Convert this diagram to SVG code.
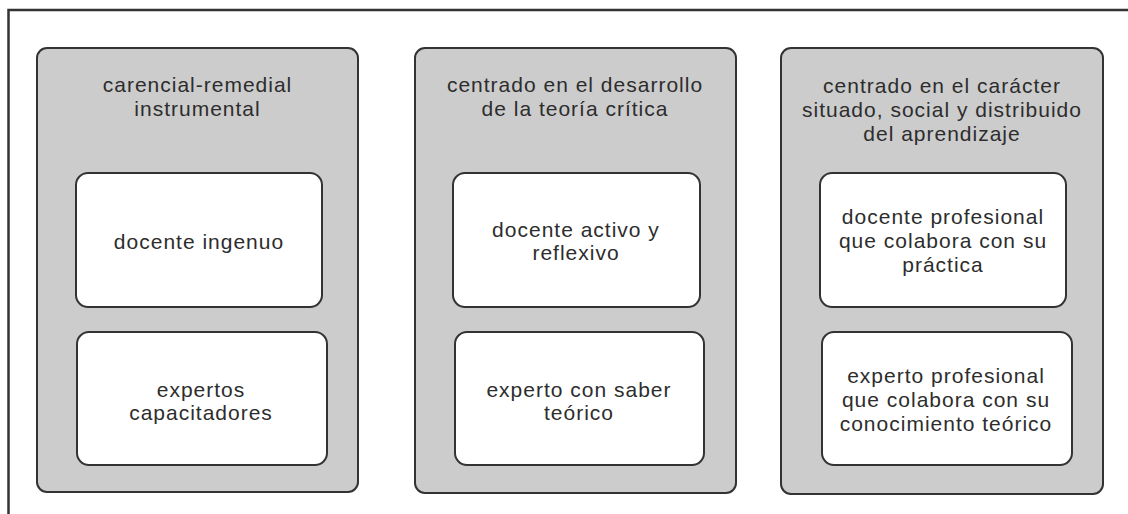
<svg xmlns="http://www.w3.org/2000/svg" width="1128" height="514" viewBox="0 0 1128 514">
<style>
.frame{fill:none;stroke:#333;stroke-width:2.5}
.panel{fill:#cccccc;stroke:#333;stroke-width:2}
.box{fill:#ffffff;stroke:#333;stroke-width:2}
text{font-family:"Liberation Sans",Arial,sans-serif;font-size:21px;letter-spacing:1px;fill:#2d2d2d;text-anchor:middle}
</style>
<rect width="1128" height="514" fill="#ffffff"/>
<path class="frame" d="M8.5 514 V10 H1128"/>
<g id="panel1">
<rect class="panel" x="37" y="48" width="321" height="444" rx="10"/>
<text x="197.5" y="92">carencial-remedial</text>
<text x="197.5" y="116">instrumental</text>
</g>
<g id="p1-top">
<rect class="box" x="76" y="173" width="246" height="134" rx="12"/>
<text x="199" y="249">docente ingenuo</text>
</g>
<g id="p1-bottom">
<rect class="box" x="77" y="332" width="250" height="133" rx="12"/>
<text x="201" y="397">expertos</text>
<text x="201" y="420">capacitadores</text>
</g>
<g id="panel2">
<rect class="panel" x="415" y="48" width="321" height="445" rx="10"/>
<text x="575" y="92">centrado en el desarrollo</text>
<text x="575" y="116">de la teoría crítica</text>
</g>
<g id="p2-top">
<rect class="box" x="453" y="173" width="247" height="134" rx="12"/>
<text x="576" y="237">docente activo y</text>
<text x="576" y="260">reflexivo</text>
</g>
<g id="p2-bottom">
<rect class="box" x="455" y="332" width="249" height="133" rx="12"/>
<text x="579" y="397">experto con saber</text>
<text x="579" y="420">teórico</text>
</g>
<g id="panel3">
<rect class="panel" x="781" y="48" width="322" height="446" rx="10"/>
<text x="942" y="93">centrado en el carácter</text>
<text x="942" y="117">situado, social y distribuido</text>
<text x="942" y="141">del aprendizaje</text>
</g>
<g id="p3-top">
<rect class="box" x="820" y="173" width="246" height="134" rx="12"/>
<text x="943" y="224">docente profesional</text>
<text x="943" y="248">que colabora con su</text>
<text x="943" y="272">práctica</text>
</g>
<g id="p3-bottom">
<rect class="box" x="822" y="332" width="250" height="133" rx="12"/>
<text x="946" y="383">experto profesional</text>
<text x="946" y="407">que colabora con su</text>
<text x="946" y="431">conocimiento teórico</text>
</g>
<g id="connectors"></g>
</svg>
